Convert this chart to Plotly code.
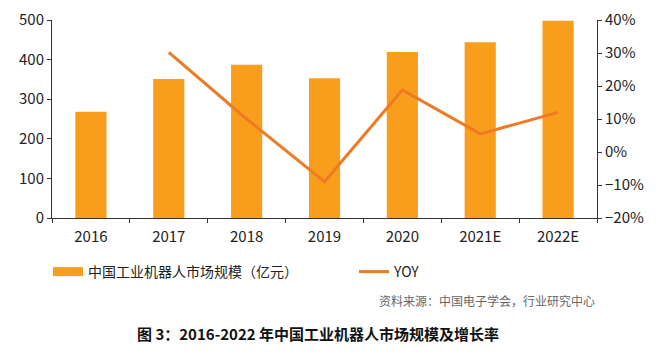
import plotly.graph_objects as go

categories = ["2016", "2017", "2018", "2019", "2020", "2021E", "2022E"]
market_size = [268, 351, 387, 353, 419, 444, 498]
yoy_years = ["2017", "2018", "2019", "2020", "2021E", "2022E"]
yoy = [0.302, 0.10, -0.09, 0.188, 0.055, 0.12]

FONT = "Noto Sans CJK SC, Noto Sans, sans-serif"
BAR_COLOR = "#F99D1C"
LINE_COLOR = "#EE7A22"

# page body has an 8px margin, so the figure is drawn 8px smaller and shifted
W, H = 652, 348
PLOT_L, PLOT_R, PLOT_T, PLOT_B = 52, 597, 20, 218   # target window pixels
OFF = 8

fig = go.Figure()
fig.add_trace(go.Bar(
    x=categories, y=market_size, name="中国工业机器人市场规模（亿元）",
    marker=dict(color=BAR_COLOR, line=dict(width=0)), width=0.4, yaxis="y",
    showlegend=False,
))
# legend proxy for the bar series (wide rectangle swatch)
fig.add_trace(go.Scatter(
    x=[None], y=[None], mode="lines", name="中国工业机器人市场规模（亿元）",
    line=dict(color=BAR_COLOR, width=9), legend="legend",
))
fig.add_trace(go.Scatter(
    x=yoy_years, y=yoy, name="YOY", mode="lines",
    line=dict(color=LINE_COLOR, width=3), yaxis="y2", legend="legend2",
))

axis_common = dict(showgrid=False, zeroline=False, showline=True, linecolor="#333333",
                   linewidth=1, ticks="outside", ticklen=4, tickcolor="#333333",
                   automargin=False,
                   tickfont=dict(family=FONT, size=15, color="#222222"))

pw = PLOT_R - PLOT_L
ph = PLOT_B - PLOT_T
def px_x(x):
    return (x - PLOT_L) / pw
def px_y(y):
    return (PLOT_B - y) / ph

legend_font = dict(family=FONT, size=14, color="#222222")

fig.update_layout(
    width=W, height=H,
    margin=dict(l=PLOT_L - OFF, r=W - (PLOT_R - OFF), t=PLOT_T - OFF, b=H - (PLOT_B - OFF),
                pad=0, autoexpand=False),
    paper_bgcolor="white", plot_bgcolor="white",
    font=dict(family=FONT, color="#222222"),
    xaxis=dict(**axis_common, tickson="boundaries", type="category", ticklabelstandoff=5),
    yaxis=dict(**axis_common, range=[0, 500], dtick=100),
    yaxis2=dict(**axis_common, overlaying="y", side="right", range=[-0.2, 0.4],
                dtick=0.1, tickformat=".0%"),
    showlegend=True,
    legend=dict(orientation="h", x=px_x(48), y=px_y(272), xanchor="left", yanchor="middle",
                font=legend_font, itemwidth=30, bgcolor="rgba(0,0,0,0)"),
    legend2=dict(orientation="h", x=px_x(354), y=px_y(272), xanchor="left", yanchor="middle",
                 font=legend_font, itemwidth=30, bgcolor="rgba(0,0,0,0)"),
    annotations=[
        dict(text="资料来源：中国电子学会，行业研究中心", xref="paper", yref="paper",
             x=1.0, y=px_y(300), xanchor="right", yanchor="middle", showarrow=False,
             font=dict(family=FONT, size=12, color="#666666")),
        dict(text="<b>图 3：2016-2022 年中国工业机器人市场规模及增长率</b>", xref="paper", yref="paper",
             x=px_x(135), y=px_y(333), xanchor="left", yanchor="middle", showarrow=False,
             font=dict(family=FONT, size=15, color="#111111")),
    ],
)

fig.write_html("out.html")
